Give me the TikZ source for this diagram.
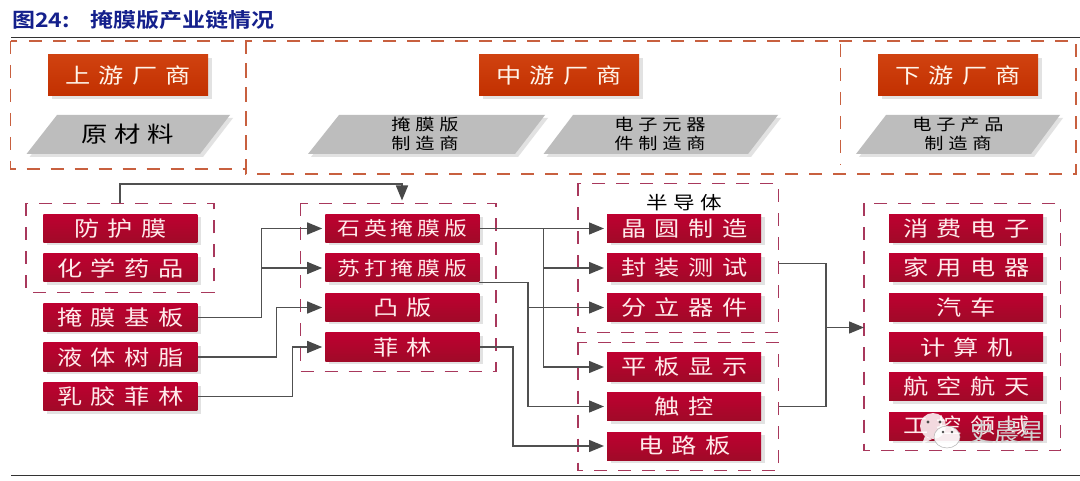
\documentclass[tikz,border=0pt]{standalone}
\usepackage{fontspec}
\usetikzlibrary{arrows.meta,shadows,shapes.geometric,calc}
\newfontfamily\cjk[FakeStretch=1.2]{Noto Sans CJK SC}
\newfontfamily\cjkplain{Noto Sans CJK SC}
\newfontfamily\cjktitle[FakeStretch=1.15,BoldFont={Noto Sans CJK SC Bold}]{Noto Sans CJK SC}
\definecolor{rTop}{HTML}{BE0030}
\definecolor{rBot}{HTML}{A00A28}
\definecolor{oTop}{HTML}{D04210}
\definecolor{oBot}{HTML}{C23000}
\definecolor{gFill}{HTML}{BDBDBD}
\definecolor{dashO}{HTML}{C8603F}
\definecolor{dashR}{HTML}{A8385C}
\definecolor{lineG}{HTML}{505050}
\definecolor{titleB}{HTML}{14208C}
\definecolor{shadeC}{HTML}{E2E2E2}
\tikzset{
  x=1pt,y=-1pt,
  sh/.style={drop shadow={shadow xshift=4pt,shadow yshift=-3pt,fill=shadeC,opacity=1}},
  redbox/.style={sh,draw=none,top color=rTop,bottom color=rBot,text=white!92!red,minimum width=154pt,minimum height=28pt,inner sep=0pt,font=\cjk\fontsize{21}{23}\selectfont},
  orbox/.style={sh,draw=none,top color=oTop,bottom color=oBot,text=white!92!orange,minimum width=160pt,minimum height=41pt,inner sep=0pt,font=\cjk\fontsize{21}{23}\selectfont},
  para/.style={fill=gFill,draw=none},
  parashadow/.style={fill=shadeC,draw=none},
  ptext/.style={text=black,align=center,inner sep=0pt},
  dashbox/.style={draw=dashR,line width=1.6pt,dash pattern=on 13pt off 11pt},
  dashor/.style={draw=dashO,line width=1.6pt,dash pattern=on 13pt off 11pt},
  conn/.style={draw=lineG,line width=1.4pt},
  arr/.style={conn,-{Triangle[length=15pt,width=12pt,color=lineG!90!black]},shorten >=3pt},
}
\newcommand{\lsA}[1]{\addfontfeature{LetterSpace=40}#1}
\newcommand{\lsB}[1]{\addfontfeature{LetterSpace=22}#1}
\newcommand{\lsC}[1]{\addfontfeature{LetterSpace=30}#1}
\begin{document}
\begin{tikzpicture}
\useasboundingbox (0,0) rectangle (1080,481);
\fill[white] (0,0) rectangle (1080,481);
% title and rules
\node[anchor=west,inner sep=0pt,text=titleB,font=\cjktitle\bfseries\fontsize{20}{22}\selectfont] (title) at (12,20) {图24:\hspace{21pt}掩膜版产业链情况};
\coordinate (ruleTL) at (11,38);\coordinate (ruleTR) at (1080,38);
\coordinate (ruleBL) at (11,475.5);\coordinate (ruleBR) at (1080,475.5);
\draw[black!80,line width=1pt] (ruleTL) -- (ruleTR);
\draw[black!80,line width=1pt] (ruleBL) -- (ruleBR);
% top dashed frames
\draw[dashor] (10.5,41) rectangle (246,169);
\draw[dashor] (246,41) rectangle (1076,174);
\draw[dashor] (840.5,44) -- (840.5,165);
% orange headers
\node[orbox] (up) at (128,75.5) {\lsA{上游厂商}};
\node[orbox] (mid) at (559,75.5) {\lsA{中游厂商}};
\node[orbox] (down) at (958,75.5) {\lsA{下游厂商}};
% parallelograms
\foreach \bl/\tl/\tr/\br in {26.5/57/230/200,308/339/545/515,543.5/573/778/748,856/886/1060/1031}{
  \fill[parashadow] (\bl+3,157) -- (\tl+3,118) -- (\tr+3,118) -- (\br+3,157) -- cycle;
  \fill[para] (\bl,154) -- (\tl,115) -- (\tr,115) -- (\br,154) -- cycle;
}
\node[ptext,font=\cjk\fontsize{22}{24}\selectfont] (rawm) at (128,134) {\lsC{原材料}};
\node[ptext,font=\cjk\fontsize{16}{19}\selectfont] (mask) at (425,134) {\lsC{掩膜版}\\\lsC{制造商}};
\node[ptext,font=\cjk\fontsize{16}{19}\selectfont] (elec) at (660,134) {\lsC{电子元器}\\\lsC{件制造商}};
\node[ptext,font=\cjk\fontsize{16}{19}\selectfont] (prod) at (958,134) {\lsC{电子产品}\\\lsC{制造商}};
% lower dashed frames
\draw[dashbox] (26,203.5) rectangle (214,292.5);
\draw[dashbox] (300.5,203.5) rectangle (496,371.5);
\draw[dashbox] (578,183.5) rectangle (778.5,332.5);
\draw[dashbox] (578,342.5) rectangle (778.5,470.5);
\draw[dashbox] (864,203.5) rectangle (1060.5,450.5);
\coordinate (fA) at (120,203.5);
\coordinate (fB) at (402,203.5);
\coordinate (fCr) at (778.5,263.5);
\coordinate (fDr) at (778.5,406.5);
\coordinate (fEl) at (864,327.5);
\node[inner sep=0pt,font=\cjk\fontsize{18}{20}\selectfont] (semi) at (684,202.5) {\lsC{半导体}};
% column 1
\node[redbox] (a1) at (120.4,228.5) {\lsA{防护膜}};
\node[redbox] (a2) at (120.4,268) {\lsA{化学药品}};
\node[redbox] (a3) at (120.4,317.3) {\lsA{掩膜基板}};
\node[redbox] (a4) at (120.4,357) {\lsA{液体树脂}};
\node[redbox] (a5) at (120.4,396.7) {\lsA{乳胶菲林}};
% column 2
\node[redbox,font=\cjk\fontsize{19}{21}\selectfont] (b1) at (402.4,228.5) {\lsB{石英掩膜版}};
\node[redbox,font=\cjk\fontsize{19}{21}\selectfont] (b2) at (402.4,268) {\lsB{苏打掩膜版}};
\node[redbox] (b3) at (402.4,307.5) {\lsA{凸版}};
\node[redbox] (b4) at (402.4,347) {\lsA{菲林}};
% column 3
\node[redbox] (c1) at (684.2,228.5) {\lsA{晶圆制造}};
\node[redbox] (c2) at (684.2,268) {\lsA{封装测试}};
\node[redbox] (c3) at (684.2,307.5) {\lsA{分立器件}};
\node[redbox] (c4) at (684.2,367) {\lsA{平板显示}};
\node[redbox] (c5) at (684.2,406.5) {\lsA{触控}};
\node[redbox] (c6) at (684.2,446) {\lsA{电路板}};
% column 4
\node[redbox] (d1) at (966.2,228.5) {\lsA{消费电子}};
\node[redbox] (d2) at (966.2,268) {\lsA{家用电器}};
\node[redbox] (d3) at (966.2,307.5) {\lsA{汽车}};
\node[redbox] (d4) at (966.2,347) {\lsA{计算机}};
\node[redbox] (d5) at (966.2,386.5) {\lsA{航空航天}};
\node[redbox] (d6) at (966.2,426) {\lsA{工控领域}};
% lanes
\coordinate (L1) at (120,184);
\coordinate (L2) at (261.7,0);
\coordinate (L3) at (276.5,0);
\coordinate (L4) at (292.7,0);
\coordinate (L5) at (543.4,0);
\coordinate (L6) at (528,0);
\coordinate (L7) at (513,0);
\coordinate (L8) at (825.8,0);
\coordinate (b2o) at (479.4,282.7);
% connectors
\draw[arr] (fA) -- (L1) -| (fB);
\draw[arr] (a3.east) -- (a3.east -| L2) |- (b1.west);
\draw[arr] (a3.east -| L2) |- (b2.west);
\draw[arr] (a4.east) -- (a4.east -| L3) |- (b3.west);
\draw[arr] (a5.east) -- (a5.east -| L4) |- (b4.west);
\draw[arr] (b1.east) -- (c1.west);
\draw[arr] (b1.east -| L5) |- (c2.west);
\draw[arr] (b1.east -| L5) |- (c4.west);
\draw[arr] (b2o) -- (b2o -| L6) |- (c3.west);
\draw[arr] (b2o -| L6) |- (c5.west);
\draw[arr] (b4.east) -- (b4.east -| L7) |- (c6.west);
\draw[conn] (fCr) -- (fCr -| L8) -- (fDr -| L8) -- (fDr);
\draw[arr,shorten >=0pt] (fEl -| L8) -- (fEl);
% watermark
\fill[white,opacity=.85] (933,426) ellipse (13 and 13);
\fill[white,opacity=.85] (925,436) -- (922,444) -- (932,439) -- cycle;
\fill[black!70] (928,422) circle (1.6); \fill[black!70] (940,422) circle (1.6);
\filldraw[fill=white,fill opacity=.92,draw=black!30,line width=.5pt] (947,437) ellipse (13 and 11);
\fill[black!70] (943,432) circle (1.4); \fill[black!70] (952,432) circle (1.4);
\node[inner sep=0pt,text=black!18,font=\cjkplain\fontsize{25}{27}\selectfont] (wm) at (1007,432) {史晨星};
\end{tikzpicture}
\end{document}
